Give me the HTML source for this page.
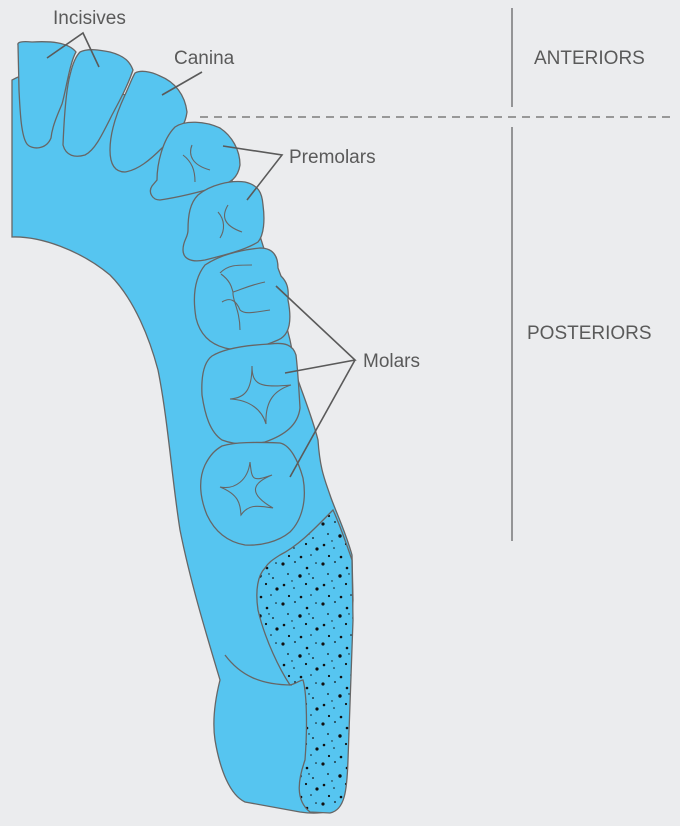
<!DOCTYPE html>
<html><head><style>
html,body{margin:0;padding:0;background:#ebecee;}
svg{display:block}
text{font-family:"Liberation Sans",sans-serif;fill:#5a5a5a;font-size:19px}
</style></head><body>
<svg width="680" height="826" viewBox="0 0 680 826" xmlns="http://www.w3.org/2000/svg">
<defs>
<pattern id="dots" width="40" height="40" patternUnits="userSpaceOnUse">
<rect width="40" height="40" fill="#56c5f0"/>
<g fill="#111">
<circle cx="3" cy="4" r="1.6"/><circle cx="15" cy="2" r="0.9"/><circle cx="27" cy="8" r="1.3"/><circle cx="36" cy="3" r="0.8"/>
<circle cx="8" cy="14" r="0.9"/><circle cx="20" cy="16" r="1.7"/><circle cx="33" cy="18" r="0.9"/>
<circle cx="4" cy="25" r="1.3"/><circle cx="14" cy="28" r="0.8"/><circle cx="26" cy="24" r="1.1"/><circle cx="37" cy="29" r="1.6"/>
<circle cx="9" cy="36" r="1.1"/><circle cx="21" cy="37" r="1.3"/><circle cx="31" cy="35" r="0.8"/>
<circle cx="12" cy="21" r="0.7"/><circle cx="29" cy="14" r="0.7"/>
</g>
</pattern>
</defs>
<g stroke="#666" stroke-width="1.3" fill="#56c5f0">
<path d="M12,80 L12,237 C40,236 80,250 110,275 C135,300 150,340 158,370 C168,420 172,480 180,530 C190,580 205,630 220,680 C215,700 212,720 215,740 C220,770 230,795 245,802 L300,812 C320,815 338,812 342,800 L348,700 L353,600 L352,555 C345,530 335,510 330,495 C325,480 320,470 318,440 C313,420 305,400 298,380 L290,340 L280,300 L255,220 L220,160 L185,125 L150,105 L100,85 L60,75 L30,72 L16,78 Z"/>
<path fill="url(#dots)" d="M265,568 C258,575 255,590 258,610 C265,640 280,670 290,685 C296,684 300,680 303,680 C306,690 308,720 305,760 C298,780 295,800 310,812 L330,813 C345,810 347,790 348,760 L353,620 L352,560 C345,540 340,525 333,510 C318,525 300,545 280,555 C272,560 268,563 265,568 Z"/>
<path fill="none" d="M225,655 C240,675 260,685 292,685"/>
<path d="M18,45 C17,42 22,41 32,42 C50,41 68,42 76,52 C70,62 66,90 62,104 C56,118 52,128 51,138 C46,150 32,150 27,144 C21,136 20,110 19,90 Z"/>
<path d="M80,52 C88,48 100,50 110,52 C125,56 130,62 133,70 C128,85 120,100 112,115 C102,135 95,150 85,155 C75,158 66,156 63,145 C64,120 66,90 70,75 C73,62 76,56 80,52 Z"/>
<path d="M135,73 C140,70 150,71 160,76 C175,82 185,95 187,112 C185,128 175,138 162,148 C150,160 138,170 125,172 C115,172 110,165 110,150 C110,130 118,110 125,95 C130,84 132,78 135,73 Z"/>
<path d="M175,127 C185,120 205,121 220,128 C232,136 240,150 240,165 C238,178 230,183 220,186 C200,192 180,197 160,200 C152,200 148,192 152,186 L157,180 C157,165 162,140 175,127 Z"/>
<path d="M198,195 C210,185 230,180 245,182 C258,185 262,192 263,205 C265,220 264,235 258,242 C245,250 225,255 205,260 C190,263 183,258 183,250 C183,240 188,238 188,230 C188,215 190,203 198,195 Z"/>
<path d="M205,265 C220,255 240,250 260,248 C272,248 278,255 278,268 L281,276 C287,282 289,288 288,300 C292,320 290,335 278,340 C260,348 240,352 225,348 C210,344 200,335 196,318 C193,300 193,280 205,265 Z"/>
<path d="M212,356 C225,348 250,345 270,344 C285,342 293,345 296,355 C298,372 299,390 300,408 C298,425 285,435 265,442 C250,445 235,445 222,440 C210,432 205,415 202,395 C201,375 204,362 212,356 Z"/>
<path d="M222,446 C235,442 255,442 280,443 C290,445 298,460 303,478 C307,500 302,520 290,532 C278,542 260,546 245,545 C228,542 215,532 207,515 C200,498 198,480 205,465 C210,455 215,450 222,446 Z"/>
</g>
<g stroke="#666" stroke-width="1.1" fill="none">
<path d="M192,145 C188,155 192,165 210,170"/><path d="M183,155 C192,162 195,170 195,182"/>
<path d="M228,205 C222,215 222,225 242,232"/><path d="M218,212 C225,220 225,230 220,238"/>
<path d="M220,273 C228,265 235,265 252,265"/><path d="M221,274 C232,282 232,290 233,292 C240,290 250,285 265,282"/><path d="M222,302 C230,297 236,300 240,310 C245,315 255,312 270,310"/><path d="M233,292 C232,300 240,310 240,330"/>
<path d="M252,366 C252,385 260,388 291,385 C275,390 265,400 266,424 C262,410 250,400 230,399 C245,398 252,390 252,366"/>
<path d="M250,462 C252,480 252,482 272,475 C255,482 245,492 273,508 C255,505 248,505 241,515 C240,505 240,495 220,487 C235,490 248,480 250,462"/>
</g>
<line x1="512" y1="8" x2="512" y2="107" stroke="#666" stroke-width="1.3"/>
<line x1="512" y1="127" x2="512" y2="541" stroke="#666" stroke-width="1.3"/>
<line x1="200" y1="117" x2="672" y2="117" stroke="#666" stroke-width="1.2" stroke-dasharray="8,6"/>
<g stroke="#5a5a5a" stroke-width="1.6" fill="none">
<polyline points="47,58 83,33 99,67"/>
<line x1="202" y1="72" x2="162" y2="95"/>
<polyline points="223,146 282,155 247,200"/>
<polyline points="276,286 355,360 285,373"/>
<line x1="355" y1="360" x2="290" y2="477"/>
</g>
<text x="53" y="24">Incisives</text>
<text x="174" y="64">Canina</text>
<text x="289" y="163">Premolars</text>
<text x="363" y="367">Molars</text>
<text x="534" y="64">ANTERIORS</text>
<text x="527" y="339">POSTERIORS</text>
</svg>
</body></html>
